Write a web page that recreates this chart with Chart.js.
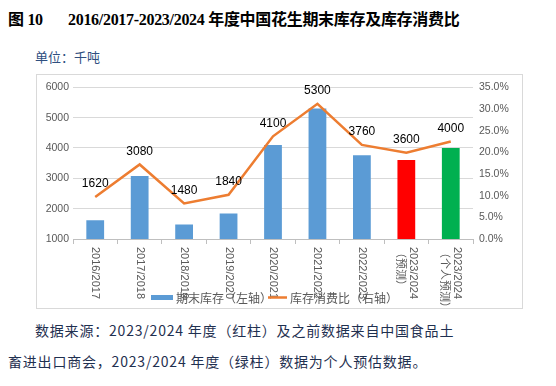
<!DOCTYPE html>
<html>
<head>
<meta charset="utf-8">
<script src="https://cdn.jsdelivr.net/npm/chart.js@4"></script>
<style>
  body { margin: 0; width: 556px; height: 386px; background: #fff; position: relative; overflow: hidden; }
  .title { position: absolute; left: 8px; top: 6px; font: bold 16px "Liberation Serif", "Noto Sans CJK SC", serif; color: #000; white-space: nowrap; letter-spacing: -0.3px; }
  .title .num { display: inline-block; width: 60px; }
  .unit { position: absolute; left: 35px; top: 47px; font: 13px "Noto Sans CJK SC", sans-serif; color: #2f4f7f; }
  .frame { position: absolute; left: 36px; top: 74px; width: 485px; height: 233px; border: 1px solid #d9d9d9; }
  .frame canvas { position: absolute; left: 0; top: 0; }
  .note { position: absolute; font: 14px "Noto Sans CJK SC", sans-serif; color: #1f3050; white-space: nowrap; letter-spacing: 0.8px; }
</style>
</head>
<body>
<div class="title"><span class="num">图 10</span>2016/2017-2023/2024 年度中国花生期末库存及库存消费比</div>
<div class="unit">单位：千吨</div>
<div class="frame"><canvas id="c" width="485" height="233"></canvas></div>
<div class="note" style="left:35px; top:320px;">数据来源：2023/2024 年度（红柱）及之前数据来自中国食品土</div>
<div class="note" style="left:8px; top:351px;">畜进出口商会，2023/2024 年度（绿柱）数据为个人预估数据。</div>
<script>
const categories = [
  ["2016/2017"], ["2017/2018"], ["2018/2019"], ["2019/2020"], ["2020/2021"],
  ["2021/2022"], ["2022/2023"], ["2023/2024", "（预测）"], ["2023/2024", "（个人预测）"]
];
const stockValues = [1620, 3080, 1480, 1840, 4100, 5300, 3760, 3600, 4000];
const ratioValues = [9.7, 17.2, 8.2, 10.2, 23.7, 31.2, 21.7, 19.9, 22.5];
const barColors = ["#5b9bd5", "#5b9bd5", "#5b9bd5", "#5b9bd5", "#5b9bd5", "#5b9bd5", "#5b9bd5", "#ff0000", "#00b050"];
const legendLabels = ["期末库存（左轴）", "库存消费比（右轴）"];

const tickFont = { family: "'Liberation Sans', Arial, sans-serif", size: 10.5 };

const extras = {
  id: "extras",
  afterDatasetsDraw(chart) {
    const ctx = chart.ctx;
    const meta = chart.getDatasetMeta(0);
    ctx.save();
    // bar value labels
    ctx.fillStyle = "#000";
    ctx.font = "12px 'Liberation Sans', Arial, sans-serif";
    ctx.textAlign = "center";
    ctx.textBaseline = "bottom";
    meta.data.forEach((bar, i) => {
      ctx.fillText(String(stockValues[i]), bar.x, bar.y - 7);
    });
    // rotated category labels
    const x = chart.scales.x;
    ctx.fillStyle = "#595959";
    ctx.font = "11px 'Liberation Sans', 'Noto Sans CJK SC', sans-serif";
    ctx.textAlign = "left";
    ctx.textBaseline = "middle";
    categories.forEach((lines, i) => {
      const px = x.getPixelForValue(i);
      const off = (lines.length - 1) * 6.5;
      lines.forEach((t, j) => {
        ctx.save();
        ctx.translate(px + off - j * 13, x.bottom - 61);
        ctx.rotate(Math.PI / 2);
        ctx.fillText(t, 0, 0);
        ctx.restore();
      });
    });
    // legend
    ctx.font = "12px 'Noto Sans CJK SC', sans-serif";
    ctx.fillStyle = "#5b9bd5";
    ctx.fillRect(114, 220, 22, 5);
    ctx.fillStyle = "#595959";
    ctx.textBaseline = "middle";
    ctx.fillText(legendLabels[0], 139, 223);
    ctx.strokeStyle = "#ed7d31";
    ctx.lineWidth = 2.5;
    ctx.beginPath();
    ctx.moveTo(231, 222.5);
    ctx.lineTo(250, 222.5);
    ctx.stroke();
    ctx.fillText(legendLabels[1], 253, 223);
    ctx.restore();
  }
};

new Chart(document.getElementById("c"), {
  data: {
    labels: categories.map((c) => c.join(" ")),
    datasets: [
      {
        type: "line",
        label: legendLabels[1],
        data: ratioValues.map((v) => v / 100),
        yAxisID: "y1",
        borderColor: "#ed7d31",
        borderWidth: 2.5,
        pointRadius: 0,
        tension: 0,
        order: 0
      },
      {
        type: "bar",
        label: legendLabels[0],
        data: stockValues,
        yAxisID: "y",
        backgroundColor: barColors,
        barPercentage: 0.4,
        categoryPercentage: 1,
        order: 1
      }
    ]
  },
  options: {
    responsive: false,
    animation: false,
    events: [],
    layout: { padding: { top: 9, left: 0, right: 0, bottom: 0 } },
    plugins: { legend: { display: false }, tooltip: { enabled: false } },
    scales: {
      x: {
        offset: true,
        grid: { offset: true, drawOnChartArea: false, drawTicks: true, tickLength: 5, color: "#bfbfbf" },
        border: { color: "#bfbfbf" },
        ticks: { display: false },
        afterFit(s) { s.height = 69; }
      },
      y: {
        position: "left",
        min: 1000,
        max: 6000,
        ticks: { stepSize: 500, color: "#595959", font: tickFont, padding: 4, callback: (v) => String(v) },
        grid: { color: "#d9d9d9", drawTicks: false },
        border: { display: false },
        afterFit(s) { s.width = 36; }
      },
      y1: {
        position: "right",
        min: 0,
        max: 0.35,
        ticks: {
          stepSize: 0.05,
          color: "#595959",
          font: tickFont,
          padding: 6,
          callback: (v) => (v * 100).toFixed(1) + "%"
        },
        grid: { display: false, drawTicks: false },
        border: { display: false },
        afterFit(s) { s.width = 49; }
      }
    }
  },
  plugins: [extras]
});
</script>
</body>
</html>
